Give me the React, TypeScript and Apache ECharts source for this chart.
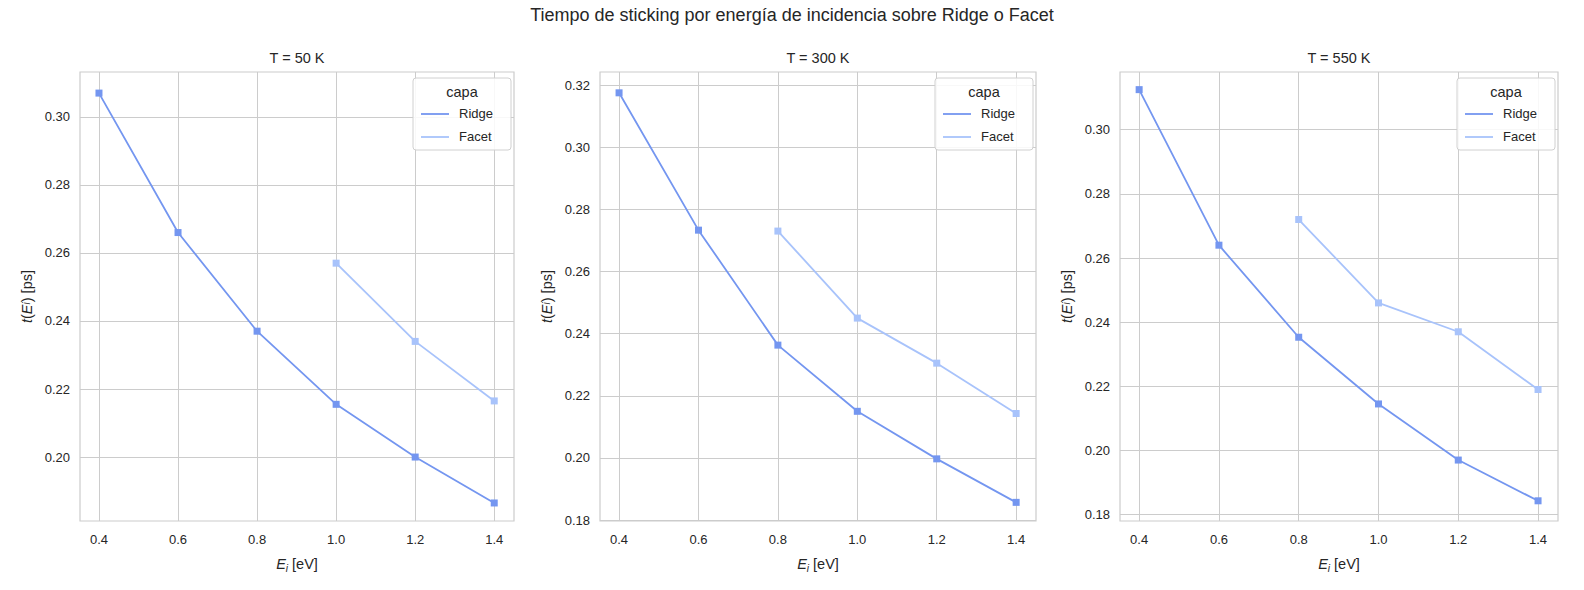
import { useEffect, useRef } from 'react'
import * as echarts from 'echarts'

const energies = [0.4, 0.6, 0.8, 1.0, 1.2, 1.4]
const panelTitles = ['T = 50 K', 'T = 300 K', 'T = 550 K']
const ridge50 = [0.307, 0.266, 0.237, 0.2155, 0.2, 0.1865]
const facet50 = [null, null, null, 0.257, 0.234, 0.2165]
const ridge300 = [0.3175, 0.2733, 0.2363, 0.215, 0.1997, 0.1857]
const facet300 = [null, null, 0.273, 0.245, 0.2305, 0.2143]
const ridge550 = [0.3125, 0.264, 0.2353, 0.2145, 0.197, 0.1843]
const facet550 = [null, null, 0.272, 0.246, 0.237, 0.219]
const yTicks = [
  [0.2, 0.22, 0.24, 0.26, 0.28, 0.3],
  [0.18, 0.2, 0.22, 0.24, 0.26, 0.28, 0.3, 0.32],
  [0.18, 0.2, 0.22, 0.24, 0.26, 0.28, 0.3]
]
const yRanges = [[0.1812, 0.3132], [0.1797, 0.3242], [0.178, 0.318]]
const xTicks = [0.4, 0.6, 0.8, 1.0, 1.2, 1.4]

const ridgeColor = '#7496f0'
const facetColor = '#a8c3fb'

export default function App() {
  const ref = useRef<HTMLDivElement>(null)
  useEffect(() => {
    document.body.style.margin = '0'
    if (!ref.current) return
    const chart = echarts.init(ref.current, null, { renderer: 'svg' })
    const lefts = [80, 600, 1120]
    const widths = [434, 436, 438]
    const ridges = [ridge50, ridge300, ridge550]
    const facets = [facet50, facet300, facet550]
    const font = 'Liberation Sans, Arial, sans-serif'
    const label = { color: '#262626', fontSize: 13, fontFamily: font }
    const grid = lefts.map((l, i) => ({
      left: l, top: 72, width: widths[i], height: 449,
      show: true, borderColor: '#cccccc', borderWidth: 1.2, backgroundColor: '#fff'
    }))
    const xAxis = lefts.map((_, i) => ({
      type: 'value', gridIndex: i, min: 0.352, max: 1.45,
      axisLine: { show: false },
      axisTick: { show: false, customValues: xTicks },
      axisLabel: { ...label, customValues: xTicks, margin: 12, formatter: (v: number) => v.toFixed(1) },
      splitLine: { lineStyle: { color: '#cccccc', width: 1 } },
      name: '{i|E}{s|i} [eV]', nameLocation: 'middle', nameGap: 34,
      nameTextStyle: {
        color: '#262626', fontSize: 14.5, fontFamily: font,
        rich: { i: { fontStyle: 'italic', fontSize: 14.5, fontFamily: font }, s: { fontStyle: 'italic', fontSize: 10, verticalAlign: 'bottom', padding: [8, 0, 0, 0], fontFamily: font } }
      }
    }))
    const yAxis = lefts.map((_, i) => ({
      type: 'value', gridIndex: i, min: yRanges[i][0], max: yRanges[i][1],
      axisLine: { show: false },
      axisTick: { show: false, customValues: yTicks[i] },
      axisLabel: { ...label, customValues: yTicks[i], margin: 10, formatter: (v: number) => v.toFixed(2) },
      splitLine: { lineStyle: { color: '#cccccc', width: 1 } },
      name: '{i|t}({i|E}{s|i}) [ps]', nameLocation: 'middle', nameGap: 46,
      nameTextStyle: {
        color: '#262626', fontSize: 14.5, fontFamily: font,
        rich: { i: { fontStyle: 'italic', fontSize: 14.5, fontFamily: font }, s: { fontStyle: 'italic', fontSize: 10, fontFamily: font } }
      }
    }))
    const series: any[] = []
    lefts.forEach((_, i) => {
      series.push({
        type: 'line', xAxisIndex: i, yAxisIndex: i, name: 'Ridge',
        data: energies.map((e, k) => [e, ridges[i][k]]),
        symbol: 'rect', symbolSize: 7, lineStyle: { color: ridgeColor, width: 1.8 },
        itemStyle: { color: ridgeColor }
      })
      series.push({
        type: 'line', xAxisIndex: i, yAxisIndex: i, name: 'Facet',
        data: energies.map((e, k) => [e, facets[i][k]]).filter((d) => d[1] != null),
        symbol: 'rect', symbolSize: 7, lineStyle: { color: facetColor, width: 1.8 },
        itemStyle: { color: facetColor }
      })
    })
    const graphic: any[] = [
      { type: 'text', left: 'center', top: 6, style: { text: 'Tiempo de sticking por energía de incidencia sobre Ridge o Facet', fontSize: 18, fontFamily: font, fill: '#262626' } }
    ]
    lefts.forEach((l, i) => {
      const cx = l + widths[i] / 2
      graphic.push({ type: 'text', x: cx, y: 50, style: { text: panelTitles[i], fontSize: 14.5, fontFamily: font, fill: '#262626', align: 'center' } })
      const bx = l + widths[i] - 101
      graphic.push({ type: 'rect', shape: { x: bx, y: 78, width: 98, height: 72, r: 3 }, style: { fill: 'rgba(255,255,255,0.85)', stroke: '#d0d0d0', lineWidth: 1 }, z: 10 })
      graphic.push({ type: 'text', x: bx + 49, y: 84, style: { text: 'capa', fontSize: 14.5, fontFamily: font, fill: '#262626', align: 'center' }, z: 11 })
      ;[['Ridge', ridgeColor, 114], ['Facet', facetColor, 137]].forEach(([n, c, y]) => {
        graphic.push({ type: 'line', shape: { x1: bx + 8, y1: y as number, x2: bx + 36, y2: y as number }, style: { stroke: c as string, lineWidth: 1.8 }, z: 11 })
        graphic.push({ type: 'text', x: bx + 46, y: (y as number) - 7, style: { text: n as string, fontSize: 13, fontFamily: font, fill: '#262626' }, z: 11 })
      })
    })
    chart.setOption({ animation: false, backgroundColor: '#fff', grid, xAxis, yAxis, series, graphic })
    return () => chart.dispose()
  }, [])
  return <div ref={ref} style={{ width: 1584, height: 590 }} />
}
